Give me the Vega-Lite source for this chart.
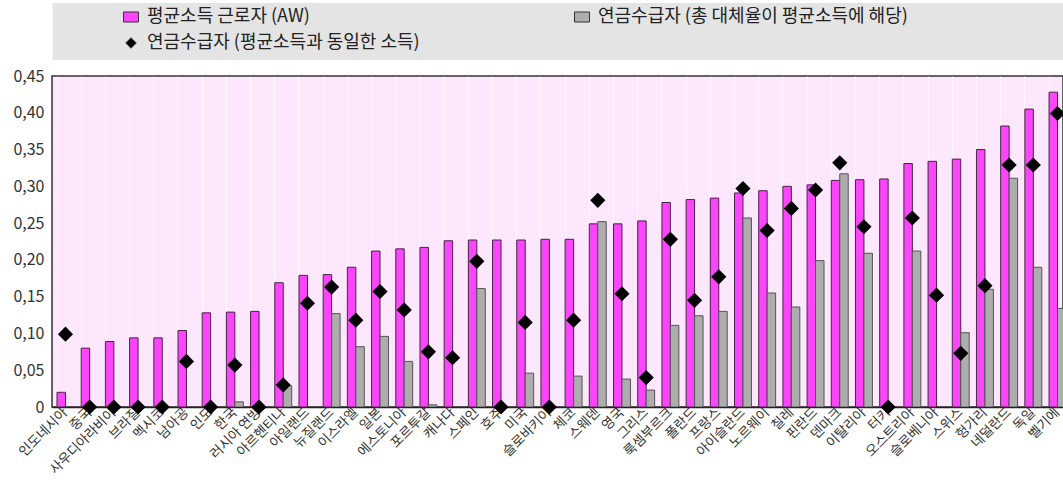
{
  "$schema": "https://vega.github.io/schema/vega-lite/v6.json",
  "width": 1011,
  "height": 331,
  "autosize": {"type": "none"},
  "padding": {"left": 52, "top": 76, "right": 0, "bottom": 79},
  "background": "#ffffff",
  "config": {
    "font": "Noto Sans CJK KR",
    "view": {"fill": "#fde7fc", "stroke": "#333333", "strokeWidth": 1.5}
  },
  "datasets": {
    "d": [
      {"c": "인도네시아", "aw": 0.020, "rr": null, "pe": 0.099},
      {"c": "중국", "aw": 0.080, "rr": null, "pe": 0.0},
      {"c": "사우디아라비아", "aw": 0.089, "rr": null, "pe": 0.0},
      {"c": "브라질", "aw": 0.094, "rr": null, "pe": 0.0},
      {"c": "멕시코", "aw": 0.094, "rr": null, "pe": 0.0},
      {"c": "남아공", "aw": 0.104, "rr": null, "pe": 0.062},
      {"c": "인도", "aw": 0.128, "rr": null, "pe": 0.0},
      {"c": "한국", "aw": 0.129, "rr": 0.007, "pe": 0.057},
      {"c": "러시아 연방", "aw": 0.130, "rr": null, "pe": 0.0},
      {"c": "아르헨티나", "aw": 0.169, "rr": 0.029, "pe": 0.030},
      {"c": "아일랜드", "aw": 0.179, "rr": null, "pe": 0.141},
      {"c": "뉴질랜드", "aw": 0.180, "rr": 0.127, "pe": 0.163},
      {"c": "이스라엘", "aw": 0.190, "rr": 0.082, "pe": 0.118},
      {"c": "일본", "aw": 0.212, "rr": 0.096, "pe": 0.157},
      {"c": "에스토니아", "aw": 0.215, "rr": 0.062, "pe": 0.132},
      {"c": "포르투갈", "aw": 0.217, "rr": 0.003, "pe": 0.075},
      {"c": "캐나다", "aw": 0.226, "rr": null, "pe": 0.067},
      {"c": "스페인", "aw": 0.227, "rr": 0.161, "pe": 0.198},
      {"c": "호주", "aw": 0.227, "rr": null, "pe": 0.0},
      {"c": "미국", "aw": 0.227, "rr": 0.046, "pe": 0.115},
      {"c": "슬로바키아", "aw": 0.228, "rr": null, "pe": 0.0},
      {"c": "체코", "aw": 0.228, "rr": 0.042, "pe": 0.118},
      {"c": "스웨덴", "aw": 0.249, "rr": 0.252, "pe": 0.281},
      {"c": "영국", "aw": 0.249, "rr": 0.038, "pe": 0.154},
      {"c": "그리스", "aw": 0.253, "rr": 0.023, "pe": 0.040},
      {"c": "룩셈부르크", "aw": 0.278, "rr": 0.111, "pe": 0.228},
      {"c": "폴란드", "aw": 0.282, "rr": 0.124, "pe": 0.145},
      {"c": "프랑스", "aw": 0.284, "rr": 0.130, "pe": 0.177},
      {"c": "아이슬란드", "aw": 0.291, "rr": 0.257, "pe": 0.297},
      {"c": "노르웨이", "aw": 0.294, "rr": 0.155, "pe": 0.240},
      {"c": "칠레", "aw": 0.300, "rr": 0.136, "pe": 0.270},
      {"c": "핀란드", "aw": 0.302, "rr": 0.199, "pe": 0.295},
      {"c": "덴마크", "aw": 0.308, "rr": 0.317, "pe": 0.332},
      {"c": "이탈리아", "aw": 0.309, "rr": 0.209, "pe": 0.245},
      {"c": "터키", "aw": 0.310, "rr": null, "pe": 0.0},
      {"c": "오스트리아", "aw": 0.331, "rr": 0.212, "pe": 0.257},
      {"c": "슬로베니아", "aw": 0.334, "rr": null, "pe": 0.152},
      {"c": "스위스", "aw": 0.337, "rr": 0.101, "pe": 0.073},
      {"c": "헝가리", "aw": 0.350, "rr": 0.160, "pe": 0.165},
      {"c": "네덜란드", "aw": 0.382, "rr": 0.311, "pe": 0.329},
      {"c": "독일", "aw": 0.405, "rr": 0.190, "pe": 0.329},
      {"c": "벨기에", "aw": 0.428, "rr": 0.134, "pe": 0.399}
    ]
  },
  "data": {"name": "d"},
  "resolve": {"axis": {"x": "independent"}},
  "encoding": {
    "y": {
      "field": "v", "type": "quantitative",
      "scale": {"domain": [0, 0.45]},
      "axis": {
        "title": null, "values": [0, 0.05, 0.1, 0.15, 0.2, 0.25, 0.3, 0.35, 0.4, 0.45],
        "labelExpr": "datum.value == 0 ? '0' : replace(format(datum.value, '.2f'), '.', ',')",
        "labelOverlap": false, "labelFontSize": 16, "labelColor": "#333333", "labelPadding": 8,
        "ticks": false, "domain": false, "grid": false
      }
    }
  },
  "layer": [
    {
      "transform": [
        {"fold": ["aw", "rr"], "as": ["s", "v"]},
        {"filter": "datum.v != null"}
      ],
      "mark": {"type": "bar", "clip": true, "strokeWidth": 1},
      "encoding": {
        "x": {
          "field": "c", "type": "nominal", "sort": null,
          "scale": {"range": [0, 1019], "paddingInner": 0.3, "paddingOuter": 0.207},
          "axis": {
            "orient": "bottom", "title": null, "labelAngle": -45, "labelAlign": "right", "labelBaseline": "middle",
            "labelFontSize": 13.5, "labelColor": "#333333", "labelPadding": 3, "ticks": false, "labelOverlap": false,
            "domain": true, "domainColor": "#222222", "domainWidth": 1.5, "grid": false
          }
        },
        "xOffset": {"field": "s", "type": "nominal", "scale": {"domain": ["aw", "rr"], "paddingInner": 0, "paddingOuter": 0}},
        "stroke": {"condition": {"test": "datum.s == 'aw'", "value": "#4a2347"}, "value": "#555555"},
        "color": {
          "field": "s", "type": "nominal",
          "scale": {"domain": ["aw", "rr", "pe"], "range": ["#fb45fa", "#adadad", "#000000"]},
          "legend": {
            "orient": "none", "legendX": 70, "legendY": -68, "columns": 2, "direction": "horizontal", "title": null,
            "padding": 0, "columnPadding": 152, "rowPadding": 8, "labelFontSize": 18, "labelColor": "#222222",
            "labelLimit": 600, "labelOffset": 7, "symbolStrokeColor": "#333333", "symbolStrokeWidth": 1, "symbolOpacity": 1,
            "labelExpr": "datum.value == 'aw' ? '평균소득 근로자 (AW)' : datum.value == 'rr' ? '연금수급자 (총 대체율이 평균소득에 해당)' : '연금수급자 (평균소득과 동일한 소득)'",
            "encode": {
              "symbols": {
                "update": {
                  "shape": {"signal": "datum.value == 'pe' ? 'diamond' : 'M-1,-0.67L1,-0.67L1,0.67L-1,0.67Z'"},
                  "size": {"signal": "datum.value == 'pe' ? 110 : 225"}
                }
              }
            }
          }
        }
      }
    },
    {
      "transform": [{"fold": ["pe"], "as": ["s", "v"]}],
      "mark": {"type": "point", "shape": "diamond", "filled": true, "size": 230, "opacity": 1},
      "encoding": {
        "x": {
          "field": "c", "type": "nominal", "sort": null,
          "axis": {
            "orient": "top", "title": null, "labels": false, "ticks": false, "offset": 45,
            "domain": true, "domainColor": "#e4e4e4", "domainWidth": 57,
            "grid": true, "gridColor": "#ffffff", "gridOpacity": 0.7, "bandPosition": 0
          }
        },
        "color": {"field": "s", "type": "nominal"}
      }
    }
  ]
}
